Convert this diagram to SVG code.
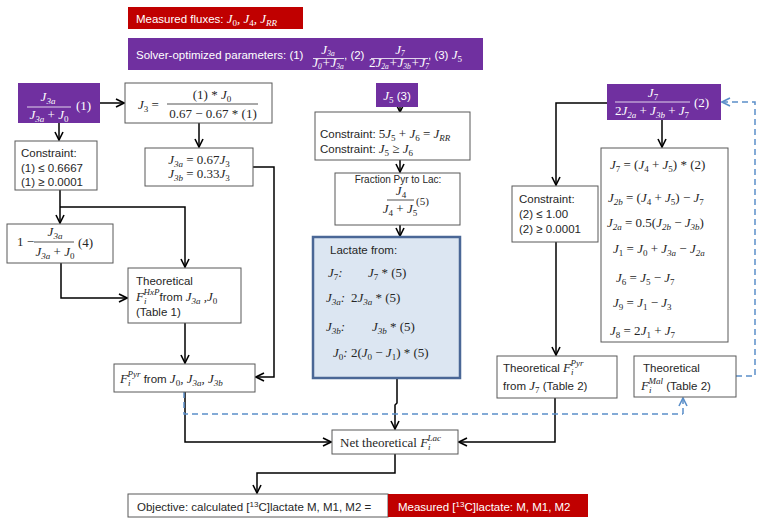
<svg xmlns="http://www.w3.org/2000/svg" width="764" height="526" viewBox="0 0 764 526">
<defs>
<marker id="ah" viewBox="0 0 10 10" refX="9" refY="5" markerWidth="10" markerHeight="10" markerUnits="userSpaceOnUse" orient="auto">
<path d="M1,1 L9,5 L1,9" fill="none" stroke="#000" stroke-width="1.6"/>
</marker>
<marker id="ahb" viewBox="0 0 10 10" refX="9" refY="5" markerWidth="10" markerHeight="10" markerUnits="userSpaceOnUse" orient="auto">
<path d="M1,1 L9,5 L1,9" fill="none" stroke="#5b8fc9" stroke-width="1.6"/>
</marker>
</defs>
<style>
.bx{fill:#fff;stroke:#595959;stroke-width:1}
.pu{fill:#7030a0}
.rd{fill:#c00000}
.lc{fill:#dce6f2;stroke:#4a6796;stroke-width:2.5}
.t{font-family:"Liberation Sans",Arial,sans-serif;font-size:11.5px;fill:#262626}
.sm{font-size:10px}
.w{fill:#fff}
.m{font-family:"Liberation Serif","Times New Roman",serif;font-style:italic;font-size:13px;fill:#262626}
.mw{fill:#fff}
.ms{font-size:11px}
.u{font-style:normal}
.sf{font-family:"Liberation Serif","Times New Roman",serif;font-size:13px;fill:#262626}
.s{font-size:9px;baseline-shift:-3px}
.p{font-size:9px;baseline-shift:6px}
.s2{font-size:7.5px;baseline-shift:-2px}
.c{stroke:#000;stroke-width:1.5;fill:none;marker-end:url(#ah)}
.d{stroke:#5b8fc9;stroke-width:1.5;fill:none;stroke-dasharray:6 4}
.db{stroke:#5b8fc9;stroke-width:1.5;fill:none;stroke-dasharray:6 4;marker-end:url(#ahb)}
.fl{stroke:#262626;stroke-width:0.8}
.flw{stroke:#fff;stroke-width:0.8}
</style>

<g id="connectors">
<path class="c" d="M100,103 H124"/>
<path class="c" d="M59,123 V140"/>
<path class="c" d="M60,190 V223"/>
<path class="c" d="M60,207 H185 V267"/>
<path class="c" d="M61,263 V298 H127"/>
<path class="c" d="M199,123 V147"/>
<path class="c" d="M253,167 H274 V377 H256"/>
<path class="c" d="M185,323 V363"/>
<path class="c" d="M185,392 V442 H331"/>
<path class="c" d="M400,107 V112"/>
<path class="c" d="M400,160 V172"/>
<path class="c" d="M400,225 V236"/>
<path class="c" d="M397,378 V403 L395,405 V429"/>
<path class="c" d="M607,103 H556 V185"/>
<path class="c" d="M662,120 V147"/>
<path class="c" d="M556,242 V355"/>
<path class="c" d="M555,398 V442 H459"/>
<path class="c" d="M395,454 V473 H257 V493"/>
<path class="d" d="M184,392 V414 H683"/>
<path class="db" d="M683,414 V398"/>
<path class="db" d="M736,376 H755 V102 H722"/>
</g>

<g id="measured-fluxes">
<rect class="rd" x="128" y="7" width="175" height="22"/>
<text class="t w" x="136" y="23" font-size="12">Measured fluxes:  <tspan class="m mw">J<tspan class="s u">0</tspan>, J<tspan class="s u">4</tspan>, J<tspan class="s">RR</tspan></tspan></text>
</g>

<g id="solver-parameters">
<rect class="pu" x="128" y="38" width="355" height="32"/>
<text class="t w" x="136" y="59" font-size="12">Solver-optimized  parameters:  (1)</text>
<text class="m mw" x="328" y="54" text-anchor="middle" font-size="10">J<tspan class="s2">3a</tspan></text>
<line class="flw" x1="313" y1="58.5" x2="344" y2="58.5"/>
<text class="m mw" x="328" y="67" text-anchor="middle" font-size="10">J<tspan class="s2">0</tspan>+J<tspan class="s2">3a</tspan></text>
<text class="t w" x="344" y="59" font-size="12">, (2)</text>
<text class="m mw" x="400" y="54" text-anchor="middle" font-size="10">J<tspan class="s2">7</tspan></text>
<line class="flw" x1="371" y1="58.5" x2="428" y2="58.5"/>
<text class="m mw" x="399" y="67" text-anchor="middle" font-size="10"><tspan class="u">2</tspan>J<tspan class="s2">2a</tspan>+J<tspan class="s2">3b</tspan>+J<tspan class="s2">7</tspan></text>
<text class="t w" x="428" y="59" font-size="12">, (3) <tspan class="m mw">J<tspan class="s u">5</tspan></tspan></text>
</g>

<g id="param1">
<rect class="pu" x="18" y="83" width="82" height="40"/>
<text class="m mw" x="48" y="101" text-anchor="middle">J<tspan class="s">3a</tspan></text>
<line class="flw" x1="27" y1="107" x2="71" y2="107"/>
<text class="m mw" x="49" y="119" text-anchor="middle">J<tspan class="s">3a</tspan><tspan class="u"> + </tspan>J<tspan class="s u">0</tspan></text>
<text class="m mw u" x="76" y="110">(1)</text>
</g>

<g id="j3">
<rect class="bx" x="125" y="83" width="147" height="40"/>
<text class="m" x="138" y="109">J<tspan class="s u">3</tspan><tspan class="u"> =</tspan></text>
<text class="m" x="212" y="99" text-anchor="middle"><tspan class="u">(1) * </tspan>J<tspan class="s u">0</tspan></text>
<line class="fl" x1="167" y1="104" x2="258" y2="104"/>
<text class="m u" x="213" y="118" text-anchor="middle">0.67 − 0.67 * (1)</text>
</g>

<g id="constraint1">
<rect class="bx" x="15" y="141" width="82" height="49"/>
<text class="t" x="21" y="157">Constraint:</text>
<text class="t" x="21" y="172">(1) ≤ 0.6667</text>
<text class="t" x="21" y="186">(1) ≥ 0.0001</text>
</g>

<g id="j3ab">
<rect class="bx" x="145" y="148" width="108" height="38"/>
<text class="m" x="199" y="164" text-anchor="middle">J<tspan class="s">3a</tspan><tspan class="u"> = 0.67</tspan>J<tspan class="s u">3</tspan></text>
<text class="m" x="199" y="178" text-anchor="middle">J<tspan class="s">3b</tspan><tspan class="u"> = 0.33</tspan>J<tspan class="s u">3</tspan></text>
</g>

<g id="param4">
<rect class="bx" x="7" y="224" width="106" height="39"/>
<text class="m u" x="17" y="246">1 −</text>
<text class="m" x="55" y="236" text-anchor="middle">J<tspan class="s">3a</tspan></text>
<line class="fl" x1="34" y1="242" x2="74" y2="242"/>
<text class="m" x="55" y="256" text-anchor="middle">J<tspan class="s">3a</tspan><tspan class="u"> + </tspan>J<tspan class="s u">0</tspan></text>
<text class="m u" x="78" y="247">(4)</text>
</g>

<g id="theoretical-hxp">
<rect class="bx" x="128" y="268" width="113" height="55"/>
<text class="t" x="136" y="285">Theoretical</text>
<text class="t" x="136" y="301"><tspan class="m">F<tspan class="s">i</tspan><tspan class="p" dx="-3">HxP</tspan></tspan>from <tspan class="m">J<tspan class="s">3a</tspan> ,J<tspan class="s u">0</tspan></tspan></text>
<text class="t" x="136" y="316">(Table 1)</text>
</g>

<g id="f-pyr">
<rect class="bx" x="114" y="364" width="141" height="28"/>
<text class="t" x="120" y="383"><tspan class="m">F<tspan class="s">i</tspan><tspan class="p" dx="-3">Pyr</tspan></tspan> from <tspan class="m">J<tspan class="s u">0</tspan>, J<tspan class="s">3a</tspan>, J<tspan class="s">3b</tspan></tspan></text>
</g>

<g id="param3">
<rect class="pu" x="376" y="83" width="42" height="24"/>
<text class="m mw" x="397" y="100" text-anchor="middle">J<tspan class="s u">5</tspan><tspan class="t w u"> (3)</tspan></text>
</g>

<g id="constraint3">
<rect class="bx" x="315" y="112" width="155" height="48"/>
<text class="t" x="320" y="138">Constraint: <tspan class="m"><tspan class="u">5</tspan>J<tspan class="s u">5</tspan><tspan class="u"> + </tspan>J<tspan class="s u">6</tspan><tspan class="u"> = </tspan>J<tspan class="s">RR</tspan></tspan></text>
<text class="t" x="320" y="153">Constraint: <tspan class="m">J<tspan class="s u">5</tspan><tspan class="u"> ≥ </tspan>J<tspan class="s u">6</tspan></tspan></text>
</g>

<g id="fraction-pyr-lac">
<rect class="bx" x="335" y="173" width="125" height="52"/>
<text class="t sm" x="398" y="183" text-anchor="middle">Fraction Pyr to Lac:</text>
<text class="m" x="401" y="195" text-anchor="middle">J<tspan class="s u">4</tspan></text>
<line class="fl" x1="387" y1="200" x2="414" y2="200"/>
<text class="m" x="400" y="213" text-anchor="middle">J<tspan class="s u">4</tspan><tspan class="u"> + </tspan>J<tspan class="s u">5</tspan></text>
<text class="m u ms" x="416" y="205">(5)</text>
</g>

<g id="lactate-from">
<rect class="lc" x="313" y="237" width="147" height="141"/>
<text class="t" x="330" y="254">Lactate from:</text>
<text class="m" x="328" y="277">J<tspan class="s u">7</tspan>:</text>
<text class="m" x="368" y="277">J<tspan class="s u">7</tspan><tspan class="u"> * (5)</tspan></text>
<text class="m" x="326" y="302">J<tspan class="s">3a</tspan>:</text>
<text class="m" x="351" y="302"><tspan class="u">2</tspan>J<tspan class="s">3a</tspan><tspan class="u"> * (5)</tspan></text>
<text class="m" x="326" y="331">J<tspan class="s">3b</tspan>:</text>
<text class="m" x="372" y="331">J<tspan class="s">3b</tspan><tspan class="u"> * (5)</tspan></text>
<text class="m" x="333" y="357">J<tspan class="s u">0</tspan>: <tspan class="u">2(</tspan>J<tspan class="s u">0</tspan><tspan class="u"> − </tspan>J<tspan class="s u">1</tspan><tspan class="u">) * (5)</tspan></text>
</g>

<g id="param2">
<rect class="pu" x="607" y="84" width="114" height="36"/>
<text class="m mw" x="653" y="97" text-anchor="middle">J<tspan class="s u">7</tspan></text>
<line class="flw" x1="615" y1="102" x2="690" y2="102"/>
<text class="m mw" x="652" y="115" text-anchor="middle"><tspan class="u">2</tspan>J<tspan class="s">2a</tspan><tspan class="u"> + </tspan>J<tspan class="s">3b</tspan><tspan class="u"> + </tspan>J<tspan class="s u">7</tspan></text>
<text class="m mw u" x="694" y="107">(2)</text>
</g>

<g id="constraint2">
<rect class="bx" x="512" y="186" width="86" height="56"/>
<text class="t" x="519" y="203">Constraint:</text>
<text class="t" x="519" y="218">(2) ≤ 1.00</text>
<text class="t" x="519" y="233">(2) ≥ 0.0001</text>
</g>

<g id="equations">
<rect class="bx" x="601" y="148" width="127" height="194"/>
<text class="m" x="610" y="169">J<tspan class="s u">7</tspan><tspan class="u"> = (</tspan>J<tspan class="s u">4</tspan><tspan class="u"> + </tspan>J<tspan class="s u">5</tspan><tspan class="u">) * (2)</tspan></text>
<text class="m" x="608" y="202">J<tspan class="s">2b</tspan><tspan class="u"> = (</tspan>J<tspan class="s u">4</tspan><tspan class="u"> + </tspan>J<tspan class="s u">5</tspan><tspan class="u">) − </tspan>J<tspan class="s u">7</tspan></text>
<text class="m" x="607" y="227">J<tspan class="s">2a</tspan><tspan class="u"> = 0.5(</tspan>J<tspan class="s">2b</tspan><tspan class="u"> − </tspan>J<tspan class="s">3b</tspan><tspan class="u">)</tspan></text>
<text class="m" x="613" y="253">J<tspan class="s u">1</tspan><tspan class="u"> = </tspan>J<tspan class="s u">0</tspan><tspan class="u"> + </tspan>J<tspan class="s">3a</tspan><tspan class="u"> − </tspan>J<tspan class="s">2a</tspan></text>
<text class="m" x="616" y="282">J<tspan class="s u">6</tspan><tspan class="u"> = </tspan>J<tspan class="s u">5</tspan><tspan class="u"> − </tspan>J<tspan class="s u">7</tspan></text>
<text class="m" x="613" y="307">J<tspan class="s u">9</tspan><tspan class="u"> = </tspan>J<tspan class="s u">1</tspan><tspan class="u"> − </tspan>J<tspan class="s u">3</tspan></text>
<text class="m" x="610" y="335">J<tspan class="s u">8</tspan><tspan class="u"> = 2</tspan>J<tspan class="s u">1</tspan><tspan class="u"> + </tspan>J<tspan class="s u">7</tspan></text>
</g>

<g id="theoretical-pyr-j7">
<rect class="bx" x="497" y="356" width="120" height="42"/>
<text class="t" x="503" y="372">Theoretical <tspan class="m">F<tspan class="s">i</tspan><tspan class="p" dx="-3">Pyr</tspan></tspan></text>
<text class="t" x="503" y="390">from  <tspan class="m">J<tspan class="s u">7</tspan></tspan> (Table 2)</text>
</g>

<g id="theoretical-mal">
<rect class="bx" x="634" y="356" width="102" height="41"/>
<text class="t" x="643" y="372">Theoretical</text>
<text class="t" x="641" y="390"><tspan class="m">F<tspan class="s">i</tspan><tspan class="p" dx="-3">Mal</tspan></tspan> (Table 2)</text>
</g>

<g id="net-theoretical">
<rect class="bx" x="332" y="430" width="126" height="24"/>
<text class="sf" x="340" y="447">Net theoretical <tspan class="m">F<tspan class="s">i</tspan><tspan class="p" dx="-3">Lac</tspan></tspan></text>
</g>

<g id="objective">
<rect class="bx" x="128" y="494" width="260" height="23"/>
<text class="t" x="137" y="511">Objective: calculated [<tspan font-size="8" baseline-shift="4">13</tspan>C]lactate M, M1, M2 =</text>
</g>

<g id="measured-lactate">
<rect class="rd" x="388" y="494" width="200" height="23"/>
<text class="t w" x="398" y="511">Measured [<tspan font-size="8" baseline-shift="4">13</tspan>C]lactate: M, M1, M2</text>
</g>
</svg>
